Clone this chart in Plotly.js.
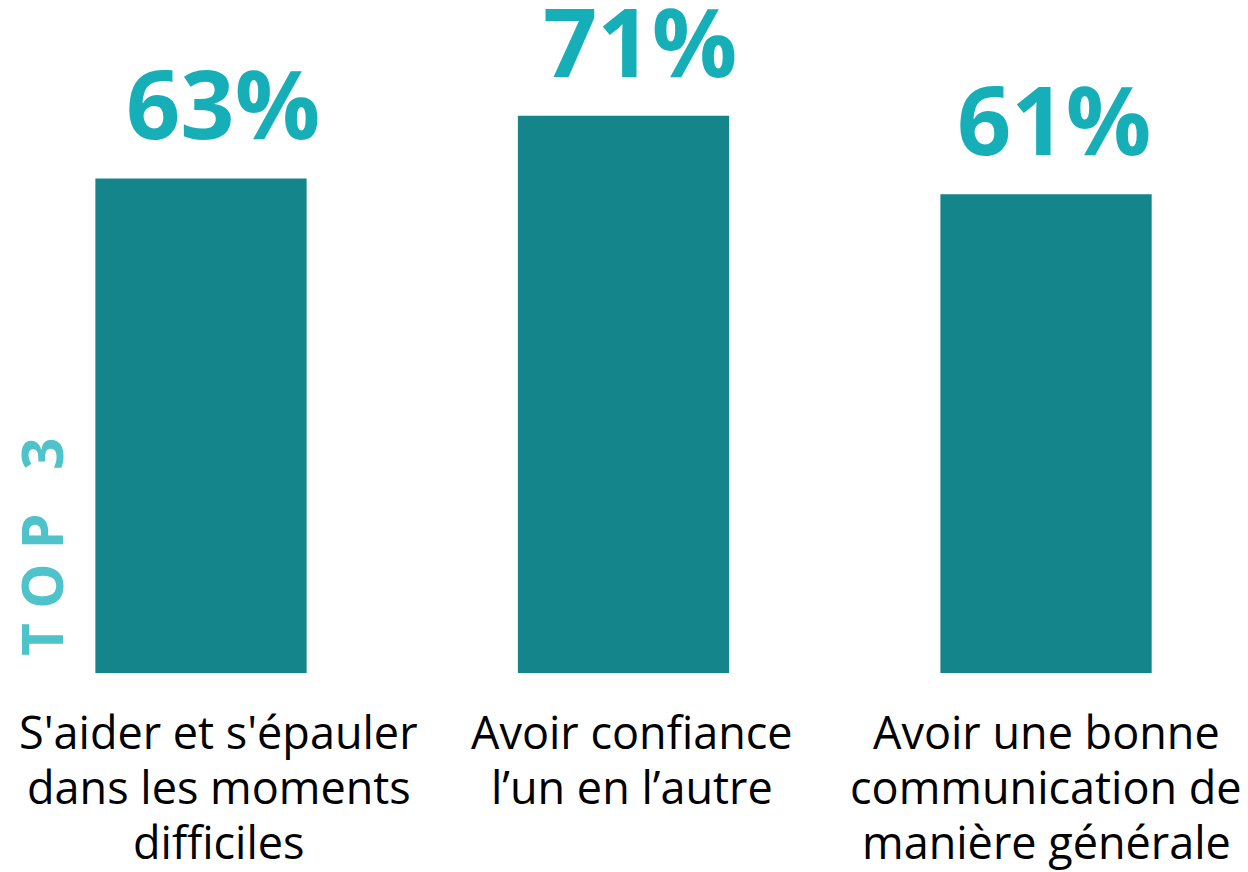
<!DOCTYPE html>
<html>
<head>
<meta charset="utf-8">
<script src="https://cdn.plot.ly/plotly-3.0.1.min.js"></script>
<style>html,body{margin:0;padding:0;background:#fff;}#chart{width:1248px;height:872px;}</style>
</head>
<body>
<div id="chart"></div>
<script>
const categories = ["S'aider et s'épauler<br>dans les moments<br>difficiles", "Avoir confiance<br>l’un en l’autre", "Avoir une bonne<br>communication de<br>manière générale"];
const values = [63, 71, 61];
const valueLabels = ["63%", "71%", "61%"];
const sideLabel = "TOP 3";

// text box offsets (style only)
const valueShift = [22, 16, 8];
const catShift = [18, 8, 0];

const FONT = "Open Sans, Noto Sans, sans-serif";
const xs = [0, 1, 2];

const annotations = [];
values.forEach((v, i) => {
  annotations.push({
    x: xs[i], y: v, xref: 'x', yref: 'y', text: '<b>' + valueLabels[i] + '</b>',
    showarrow: false, yanchor: 'bottom', xanchor: 'center', yshift: 9, xshift: valueShift[i],
    font: {family: FONT, size: 95, color: '#17AFB7'}
  });
  const lines = categories[i].split('<br>');
  lines.forEach((ln, j) => {
    annotations.push({
      x: xs[i], y: 0, xref: 'x', yref: 'y', text: ln, showarrow: false,
      yanchor: 'top', xanchor: 'center', yshift: -26 - j * 55, xshift: catShift[i],
      font: {family: FONT, size: 45, color: '#000'}
    });
  });
});
annotations.push({
  x: 0, y: 0, xref: 'paper', yref: 'paper', text: '<b>' + sideLabel.split('').join('\u2005') + '</b>',
  showarrow: false, textangle: -90, xanchor: 'center', yanchor: 'middle',
  xshift: 41, yshift: 126,
  font: {family: FONT, size: 57, color: '#4EC3C9'}
});

Plotly.newPlot('chart', [{
  type: 'bar', x: xs, y: values, width: 0.5,
  marker: {color: '#13858B'}, hoverinfo: 'none'
}], {
  width: 1248, height: 872,
  margin: {l: 0, r: 0, t: 0, b: 199, pad: 0},
  paper_bgcolor: '#fff', plot_bgcolor: '#fff',
  xaxis: {range: [-0.4757, 2.478], showticklabels: false, showgrid: false, zeroline: false, showline: false, ticks: ''},
  yaxis: {range: [0, 85.73], showticklabels: false, showgrid: false, zeroline: false, showline: false, ticks: ''},
  showlegend: false,
  annotations: annotations
}, {displayModeBar: false, staticPlot: true});
</script>
</body>
</html>
